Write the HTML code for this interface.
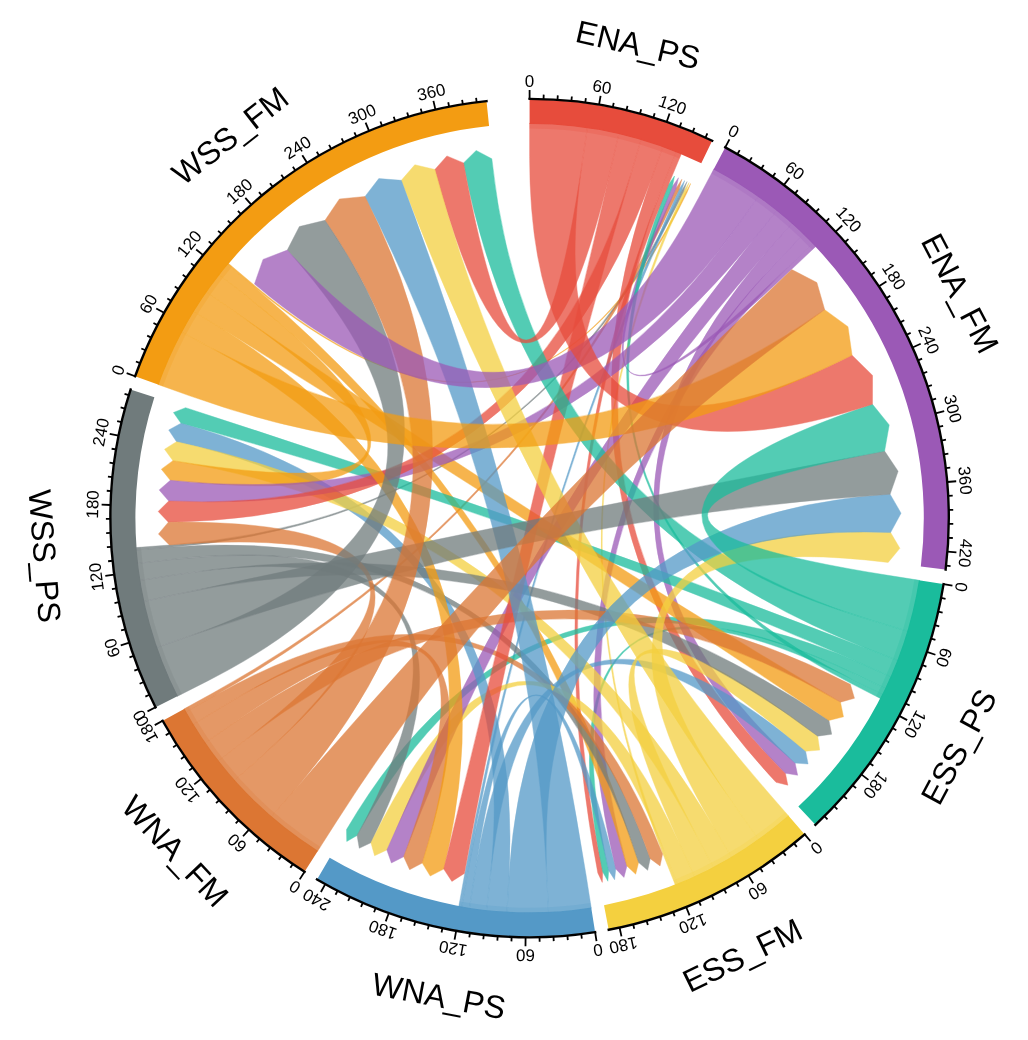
<!DOCTYPE html><html><head><meta charset="utf-8"><title>Chord diagram</title>
<style>html,body{margin:0;padding:0;background:#fff}svg{display:block}text{font-family:"Liberation Sans",Arial,sans-serif;fill:#000}</style></head><body>
<svg width="1028" height="1040" viewBox="0 0 1028 1040">
<rect width="1028" height="1040" fill="#fff"/>
<g>
<path d="M529.6,99.5A418.6,418.6 0 0 1 711.92,141.29L701.29,163.25A394.2,394.2 0 0 0 529.6,123.9Z" fill="#E74C3C"/>
<path d="M724.96,147.88A418.6,418.6 0 0 1 945.04,569.48L920.82,566.48A394.2,394.2 0 0 0 713.57,169.46Z" fill="#9B59B6"/>
<path d="M942.97,584.09A418.6,418.6 0 0 1 814.98,824.34L798.34,806.49A394.2,394.2 0 0 0 918.87,580.24Z" fill="#1ABC9C"/>
<path d="M804.28,833.97A418.6,418.6 0 0 1 608.61,929.18L604.01,905.21A394.2,394.2 0 0 0 788.27,815.56Z" fill="#F4D03F"/>
<path d="M595.01,931.56A418.6,418.6 0 0 1 317.33,878.89L329.71,857.86A394.2,394.2 0 0 0 591.2,907.46Z" fill="#5499C7"/>
<path d="M304.87,871.26A418.6,418.6 0 0 1 163.17,720.47L184.53,708.67A394.2,394.2 0 0 0 317.97,850.68Z" fill="#DC7633"/>
<path d="M156.06,707.03A418.6,418.6 0 0 1 131.15,389.79L154.38,397.27A394.2,394.2 0 0 0 177.84,696.02Z" fill="#707B7C"/>
<path d="M135.7,376.44A418.6,418.6 0 0 1 486.57,101.72L489.08,125.99A394.2,394.2 0 0 0 158.66,384.7Z" fill="#F39C12"/>
</g>
<g opacity="1" stroke-width="0.42" stroke-linejoin="round">
<path d="M227.07,264.13A395,395 0 0 1 228.03,262.99L253.76,284.75Q529.6,518.1 685.71,192.27L690.76,183.38L686.96,192.87Q529.6,518.1 252.88,285.8Z" fill="#F39C12" stroke="#F39C12" opacity="0.75"/>
<path d="M677.6,884.32A395,395 0 0 1 675.39,885.21L662.96,853.89Q529.6,518.1 683.72,191.32L689.1,182.58L685.71,192.27Q529.6,518.1 664.98,853.08Z" fill="#F4D03F" stroke="#F4D03F" opacity="0.75"/>
<path d="M135.89,550A395,395 0 0 1 135.7,547.58L169.31,545.06Q529.6,518.1 681.72,190.38L687.04,181.61L683.72,191.32Q529.6,518.1 169.48,547.28Z" fill="#707B7C" stroke="#707B7C" opacity="0.75"/>
<path d="M461.73,907.23A395,395 0 0 1 458.7,906.69L464.75,873.53Q529.6,518.1 679.14,189.2L684.69,180.52L681.72,190.38Q529.6,518.1 467.52,874.03Z" fill="#5499C7" stroke="#5499C7" opacity="0.75"/>
<path d="M185.53,712.11A395,395 0 0 1 183.82,709.06L213.33,692.77Q529.6,518.1 676.27,187.91L681.89,179.25L679.14,189.2Q529.6,518.1 214.89,695.56Z" fill="#DC7633" stroke="#DC7633" opacity="0.75"/>
<path d="M812.92,242.86A395,395 0 0 1 816.08,246.15L791.63,269.35Q529.6,518.1 672.51,186.27L678.48,177.74L676.27,187.91Q529.6,518.1 788.75,266.35Z" fill="#9B59B6" stroke="#9B59B6" opacity="0.75"/>
<path d="M882.95,694.64A395,395 0 0 1 880.86,698.78L850.89,683.36Q529.6,518.1 668.56,184.59L674.52,176.03L672.51,186.27Q529.6,518.1 852.81,679.58Z" fill="#1ABC9C" stroke="#1ABC9C" opacity="0.75"/>
<path d="M676.43,151.4A395,395 0 0 1 681.52,153.48L668.56,184.59Q529.6,518.1 602.74,871.92L602.27,882.42L597.8,872.91Q529.6,518.1 663.9,182.69Z" fill="#E74C3C" stroke="#E74C3C" opacity="0.75"/>
<path d="M885.86,688.7A395,395 0 0 1 882.95,694.64L852.81,679.58Q529.6,518.1 608.72,870.63L607.89,881.26L602.74,871.92Q529.6,518.1 855.46,674.14Z" fill="#1ABC9C" stroke="#1ABC9C" opacity="0.75"/>
<path d="M469.48,908.5A395,395 0 0 1 461.73,907.23L467.52,874.03Q529.6,518.1 615.78,868.97L614.59,879.75L608.72,870.63Q529.6,518.1 474.61,875.19Z" fill="#5499C7" stroke="#5499C7" opacity="0.75"/>
<path d="M803.83,233.81A395,395 0 0 1 812.92,242.86L788.75,266.35Q529.6,518.1 626.94,866.04L623.97,877.42L615.78,868.97Q529.6,518.1 780.44,258.06Z" fill="#9B59B6" stroke="#9B59B6" opacity="0.75"/>
<path d="M891.32,676.8A395,395 0 0 1 885.86,688.7L855.46,674.14Q529.6,518.1 357.04,835.53L346.72,841.47L346.5,829.57Q529.6,518.1 860.46,663.26Z" fill="#1ABC9C" stroke="#1ABC9C" opacity="0.75"/>
<path d="M218.78,274.35A395,395 0 0 1 227.07,264.13L252.88,285.8Q529.6,518.1 638.61,862.56L635.7,874.13L626.94,866.04Q529.6,518.1 245.3,295.15Z" fill="#F39C12" stroke="#F39C12" opacity="0.75"/>
<path d="M137.22,563.49A395,395 0 0 1 135.89,550L169.48,547.28Q529.6,518.1 650.26,858.66L647.69,870.33L638.61,862.56Q529.6,518.1 170.69,559.62Z" fill="#707B7C" stroke="#707B7C" opacity="0.75"/>
<path d="M663.06,146.33A395,395 0 0 1 676.43,151.4L663.9,182.69Q529.6,518.1 785.43,773.22L787.85,785.15L776.01,782.34Q529.6,518.1 651.68,178.05Z" fill="#E74C3C" stroke="#E74C3C" opacity="0.75"/>
<path d="M192.95,724.72A395,395 0 0 1 185.53,712.11L214.89,695.56Q529.6,518.1 662.6,854.03L660.04,865.95L650.26,858.66Q529.6,518.1 221.67,707.09Z" fill="#DC7633" stroke="#DC7633" opacity="0.75"/>
<path d="M792.42,223.23A395,395 0 0 1 803.83,233.81L780.44,258.06Q529.6,518.1 795.12,763.12L797.69,775.28L785.43,773.22Q529.6,518.1 770,248.38Z" fill="#9B59B6" stroke="#9B59B6" opacity="0.75"/>
<path d="M139.57,580.56A395,395 0 0 1 137.22,563.49L170.69,559.62Q529.6,518.1 370.93,842.7L359.27,848.25L357.04,835.53Q529.6,518.1 172.85,575.23Z" fill="#707B7C" stroke="#707B7C" opacity="0.75"/>
<path d="M486.54,910.75A395,395 0 0 1 469.48,908.5L474.61,875.19Q529.6,518.1 805.64,751.21L808.09,763.97L795.12,763.12Q529.6,518.1 490.22,877.25Z" fill="#5499C7" stroke="#5499C7" opacity="0.75"/>
<path d="M898.02,660.54A395,395 0 0 1 891.32,676.8L860.46,663.26Q529.6,518.1 180.97,423.25L173.42,412.53L185.6,407.65Q529.6,518.1 866.59,648.38Z" fill="#1ABC9C" stroke="#1ABC9C" opacity="0.75"/>
<path d="M694.9,876.85A395,395 0 0 1 677.6,884.32L664.98,853.08Q529.6,518.1 386.81,849.98L374.57,855.71L370.93,842.7Q529.6,518.1 680.8,846.24Z" fill="#F4D03F" stroke="#F4D03F" opacity="0.75"/>
<path d="M777.01,210.18A395,395 0 0 1 792.42,223.23L770,248.38Q529.6,518.1 403.66,856.74L391.4,862.94L386.81,849.98Q529.6,518.1 755.9,236.45Z" fill="#9B59B6" stroke="#9B59B6" opacity="0.75"/>
<path d="M506.96,912.45A395,395 0 0 1 486.54,910.75L490.22,877.25Q529.6,518.1 176.49,441.63L168.7,429.99L180.97,423.25Q529.6,518.1 508.89,878.81Z" fill="#5499C7" stroke="#5499C7" opacity="0.75"/>
<path d="M713.57,867.64A395,395 0 0 1 694.9,876.85L680.8,846.24Q529.6,518.1 817.69,736.14L819.73,750.12L805.64,751.21Q529.6,518.1 697.87,837.82Z" fill="#F4D03F" stroke="#F4D03F" opacity="0.75"/>
<path d="M731.78,857.43A395,395 0 0 1 713.57,867.64L697.87,837.82Q529.6,518.1 172.9,460.65L164.54,449.22L176.49,441.63Q529.6,518.1 714.53,828.48Z" fill="#F4D03F" stroke="#F4D03F" opacity="0.75"/>
<path d="M143.51,601.53A395,395 0 0 1 139.57,580.56L172.85,575.23Q529.6,518.1 828.95,720.4L831.72,734.28L817.69,736.14Q529.6,518.1 176.45,594.41Z" fill="#707B7C" stroke="#707B7C" opacity="0.75"/>
<path d="M204.88,743.01A395,395 0 0 1 192.95,724.72L221.67,707.09Q529.6,518.1 422.28,863.09L409.63,869.7L403.66,856.74Q529.6,518.1 232.58,723.82Z" fill="#DC7633" stroke="#DC7633" opacity="0.75"/>
<path d="M205.99,291.6A395,395 0 0 1 218.78,274.35L245.3,295.15Q529.6,518.1 170.28,480.33L161.34,469.13L172.9,460.65Q529.6,518.1 233.6,310.92Z" fill="#F39C12" stroke="#F39C12" opacity="0.75"/>
<path d="M193.19,311.08A395,395 0 0 1 205.99,291.6L233.6,310.92Q529.6,518.1 840.49,702.18L843.48,716.83L828.95,720.4Q529.6,518.1 221.89,328.75Z" fill="#F39C12" stroke="#F39C12" opacity="0.75"/>
<path d="M758.56,196.23A395,395 0 0 1 777.01,210.18L755.9,236.45Q529.6,518.1 168.7,501.08L159.17,489.92L170.28,480.33Q529.6,518.1 739.03,223.69Z" fill="#9B59B6" stroke="#9B59B6" opacity="0.75"/>
<path d="M641.23,139.2A395,395 0 0 1 663.06,146.33L651.68,178.05Q529.6,518.1 168.32,522.14L158.16,511.42L168.7,501.08Q529.6,518.1 631.71,171.53Z" fill="#E74C3C" stroke="#E74C3C" opacity="0.75"/>
<path d="M181.21,331.95A395,395 0 0 1 193.19,311.08L221.89,328.75Q529.6,518.1 443.72,869.05L430.23,876.06L422.28,863.09Q529.6,518.1 210.94,347.83Z" fill="#F39C12" stroke="#F39C12" opacity="0.75"/>
<path d="M218.28,761.21A395,395 0 0 1 204.88,743.01L232.58,723.82Q529.6,518.1 850.37,684.37L854.47,698.29L840.49,702.18Q529.6,518.1 244.84,740.47Z" fill="#DC7633" stroke="#DC7633" opacity="0.75"/>
<path d="M618.96,133.34A395,395 0 0 1 641.23,139.2L631.71,171.53Q529.6,518.1 464.38,873.46L451.89,881.38L443.72,869.05Q529.6,518.1 611.34,166.17Z" fill="#E74C3C" stroke="#E74C3C" opacity="0.75"/>
<path d="M234.5,780.67A395,395 0 0 1 218.28,761.21L244.84,740.47Q529.6,518.1 169.3,544.94L158.44,533.98L168.32,522.14Q529.6,518.1 259.68,758.27Z" fill="#DC7633" stroke="#DC7633" opacity="0.75"/>
<path d="M908.03,631.32A395,395 0 0 1 898.02,660.54L866.59,648.38Q529.6,518.1 463.57,162.88L476.2,150.46L491.83,158.78Q529.6,518.1 875.74,621.66Z" fill="#1ABC9C" stroke="#1ABC9C" opacity="0.75"/>
<path d="M587.42,127.36A395,395 0 0 1 618.96,133.34L611.34,166.17Q529.6,518.1 434.87,169.44L446.88,155.93L463.57,162.88Q529.6,518.1 582.49,160.69Z" fill="#E74C3C" stroke="#E74C3C" opacity="0.75"/>
<path d="M758.89,839.74A395,395 0 0 1 731.78,857.43L714.53,828.48Q529.6,518.1 890.61,532.54L899.87,548.35L888.17,562.44Q529.6,518.1 739.33,812.3Z" fill="#F4D03F" stroke="#F4D03F" opacity="0.75"/>
<path d="M788.8,816.17A395,395 0 0 1 758.89,839.74L739.33,812.3Q529.6,518.1 401.3,180.35L414.8,164.78L434.87,169.44Q529.6,518.1 766.68,790.74Z" fill="#F4D03F" stroke="#F4D03F" opacity="0.75"/>
<path d="M548.54,912.65A395,395 0 0 1 506.96,912.45L508.89,878.81Q529.6,518.1 890.11,494.16L901.07,513.2L890.61,532.54Q529.6,518.1 546.92,878.98Z" fill="#5499C7" stroke="#5499C7" opacity="0.75"/>
<path d="M591.32,908.25A395,395 0 0 1 548.54,912.65L546.92,878.98Q529.6,518.1 365.01,196.47L378.79,178.59L401.3,180.35Q529.6,518.1 586.06,874.96Z" fill="#5499C7" stroke="#5499C7" opacity="0.75"/>
<path d="M156.43,647.6A395,395 0 0 1 143.51,601.53L176.45,594.41Q529.6,518.1 884.63,451.08L898.13,471.25L890.11,494.16Q529.6,518.1 188.27,636.55Z" fill="#707B7C" stroke="#707B7C" opacity="0.75"/>
<path d="M271.31,816.95A395,395 0 0 1 234.5,780.67L259.68,758.27Q529.6,518.1 325.01,220.31L339.4,198.98L365.01,196.47Q529.6,518.1 293.35,791.46Z" fill="#DC7633" stroke="#DC7633" opacity="0.75"/>
<path d="M177.12,696.38A395,395 0 0 1 156.43,647.6L188.27,636.55Q529.6,518.1 287.28,250.11L299.33,226.58L325.01,220.31Q529.6,518.1 207.19,681.17Z" fill="#707B7C" stroke="#707B7C" opacity="0.75"/>
<path d="M713.94,168.75A395,395 0 0 1 758.56,196.23L739.03,223.69Q529.6,518.1 254.46,283.93L263,259.38L287.28,250.11Q529.6,518.1 698.22,198.56Z" fill="#9B59B6" stroke="#9B59B6" opacity="0.75"/>
<path d="M919.66,580.37A395,395 0 0 1 908.03,631.32L875.74,621.66Q529.6,518.1 872.51,404.3L889.23,424.93L884.63,451.08Q529.6,518.1 886.38,575.06Z" fill="#1ABC9C" stroke="#1ABC9C" opacity="0.75"/>
<path d="M529.6,123.1A395,395 0 0 1 587.42,127.36L582.49,160.69Q529.6,518.1 852.09,355.2L872.62,375.45L872.51,404.3Q529.6,518.1 529.6,156.8Z" fill="#E74C3C" stroke="#E74C3C" opacity="0.75"/>
<path d="M157.91,384.43A395,395 0 0 1 181.21,331.95L210.94,347.83Q529.6,518.1 824.73,309.68L847.99,326.68L852.09,355.2Q529.6,518.1 189.62,395.83Z" fill="#F39C12" stroke="#F39C12" opacity="0.75"/>
<path d="M317.54,851.35A395,395 0 0 1 271.31,816.95L293.35,791.46Q529.6,518.1 791.81,269.53L816.88,282.55L824.73,309.68Q529.6,518.1 335.63,822.92Z" fill="#DC7633" stroke="#DC7633" opacity="0.75"/>
</g>
<g fill-opacity="0.22">
<path d="M529.6,123.9A394.2,394.2 0 0 1 681.22,154.22L679.49,158.38A389.7,389.7 0 0 0 529.6,128.4Z" fill="#E74C3C"/>
<path d="M713.57,169.46A394.2,394.2 0 0 1 815.5,246.7L812.23,249.8A389.7,389.7 0 0 0 711.47,173.44Z" fill="#9B59B6"/>
<path d="M918.87,580.24A394.2,394.2 0 0 1 880.15,698.41L876.14,696.35A389.7,389.7 0 0 0 914.43,579.53Z" fill="#1ABC9C"/>
<path d="M788.27,815.56A394.2,394.2 0 0 1 675.1,884.47L673.44,880.28A389.7,389.7 0 0 0 785.32,812.17Z" fill="#F4D03F"/>
<path d="M591.2,907.46A394.2,394.2 0 0 1 458.85,905.9L459.65,901.47A389.7,389.7 0 0 0 590.5,903.01Z" fill="#5499C7"/>
<path d="M317.97,850.68A394.2,394.2 0 0 1 184.53,708.67L188.46,706.49A389.7,389.7 0 0 0 320.39,846.88Z" fill="#DC7633"/>
<path d="M177.84,696.02A394.2,394.2 0 0 1 136.5,547.52L140.99,547.18A389.7,389.7 0 0 0 181.85,693.99Z" fill="#707B7C"/>
<path d="M158.66,384.7A394.2,394.2 0 0 1 228.64,263.5L232.08,266.41A389.7,389.7 0 0 0 162.89,386.22Z" fill="#F39C12"/>
</g>
<g stroke="#000" stroke-width="2.4" fill="none" stroke-linecap="butt">
<path d="M529.6,98.9A419.2,419.2 0 0 1 712.18,140.75" stroke-linecap="square"/>
<path d="M529.6,98.9L529.6,89.9M543.56,99.13L543.71,94.63M557.5,99.83L557.8,95.34M571.41,100.99L571.86,96.51M585.27,102.61L585.87,98.15M599.08,104.7L600.57,95.82M612.8,107.24L613.7,102.83M626.44,110.24L627.48,105.86M639.96,113.69L641.15,109.35M653.37,117.59L654.69,113.29M666.63,121.93L669.57,113.42M679.75,126.71L681.36,122.51M692.69,131.93L694.44,127.78M705.46,137.57L707.35,133.49" stroke-width="1.8"/>
<path d="M725.24,147.35A419.2,419.2 0 0 1 945.63,569.55" stroke-linecap="square"/>
<path d="M725.24,147.35L729.44,139.39M737.47,154.07L739.71,150.16M749.48,161.19L751.84,157.36M761.24,168.71L763.73,164.96M772.74,176.62L775.35,172.95M783.98,184.9L789.44,177.75M794.93,193.56L797.78,190.07M805.59,202.57L808.55,199.18M815.94,211.94L819.02,208.65M825.98,221.64L829.16,218.46M835.68,231.67L842.26,225.52M845.05,242.02L848.44,239.06M854.07,252.68L857.55,249.83M862.73,263.63L866.3,260.9M871.01,274.86L874.68,272.25M878.92,286.36L886.42,281.39M886.44,298.12L890.28,295.76M893.57,310.12L897.48,307.89M900.29,322.36L904.27,320.26M906.61,334.81L910.65,332.84M912.5,347.46L920.72,343.8M917.97,360.31L922.14,358.61M923.01,373.32L927.23,371.77M927.61,386.5L931.88,385.09M931.77,399.83L936.09,398.56M935.48,413.28L944.2,411.03M938.75,426.85L943.14,425.87M941.56,440.53L945.98,439.69M943.91,454.29L948.36,453.6M945.81,468.12L950.28,467.58M947.24,482L956.21,481.23M948.21,495.93L952.71,495.69M948.72,509.88L953.22,509.79M948.76,523.84L953.26,523.9M948.34,537.79L952.83,538M947.45,551.72L956.42,552.44M946.1,565.61L950.57,566.12" stroke-width="1.8"/>
<path d="M943.56,584.18A419.2,419.2 0 0 1 815.39,824.78" stroke-linecap="square"/>
<path d="M943.56,584.18L952.45,585.6M941.13,597.93L945.55,598.79M938.24,611.59L942.63,612.59M934.9,625.14L939.25,626.29M931.11,638.58L935.43,639.87M926.88,651.88L935.41,654.75M922.21,665.03L926.42,666.61M917.1,678.02L921.26,679.74M911.56,690.83L915.66,692.69M905.59,703.45L909.63,705.44M899.22,715.87L907.15,720.12M892.43,728.07L896.32,730.32M885.23,740.03L889.05,742.41M877.65,751.75L881.38,754.26M869.67,763.21L873.33,765.84M861.33,774.39L868.45,779.9M852.61,785.3L856.08,788.17M843.53,795.9L846.9,798.89M834.11,806.2L837.38,809.29M824.35,816.18L827.51,819.38" stroke-width="1.8"/>
<path d="M804.68,834.43A419.2,419.2 0 0 1 608.73,929.76" stroke-linecap="square"/>
<path d="M804.68,834.43L810.58,841.22M793.99,843.41L796.83,846.9M783.01,852.03L785.73,855.62M771.75,860.28L774.35,863.96M760.23,868.16L762.7,871.91M748.44,875.64L753.14,883.32M736.42,882.73L738.64,886.64M724.16,889.41L726.25,893.4M711.69,895.69L713.65,899.74M699.02,901.54L700.84,905.65M686.16,906.97L689.52,915.32M673.13,911.96L674.67,916.19M659.93,916.52L661.33,920.8M646.6,920.64L647.85,924.96M633.13,924.32L634.24,928.68M619.55,927.54L621.48,936.33" stroke-width="1.8"/>
<path d="M595.11,932.15A419.2,419.2 0 0 1 317.03,879.41" stroke-linecap="square"/>
<path d="M595.11,932.15L596.51,941.04M581.28,934.1L581.84,938.57M567.4,935.59L567.81,940.07M553.48,936.62L553.74,941.11M539.53,937.18L539.64,941.68M525.58,937.28L525.49,946.28M511.62,936.91L511.43,941.41M497.69,936.08L497.34,940.57M483.79,934.79L483.3,939.26M469.94,933.03L469.3,937.49M456.16,930.82L454.58,939.68M442.46,928.14L441.52,932.54M428.85,925.01L427.77,929.38M415.36,921.43L414.14,925.76M402,917.41L400.63,921.69M388.77,912.94L385.75,921.41M375.7,908.03L374.05,912.21M362.81,902.69L361.02,906.82M350.09,896.92L348.17,900.99M337.58,890.74L335.52,894.74M325.28,884.14L320.89,891.99" stroke-width="1.8"/>
<path d="M304.55,871.77A419.2,419.2 0 0 1 162.64,720.76" stroke-linecap="square"/>
<path d="M304.55,871.77L299.72,879.36M292.9,864.08L290.36,867.79M281.51,856.01L278.85,859.63M270.4,847.56L267.62,851.1M259.57,838.75L256.67,842.19M249.05,829.58L243.02,836.26M238.83,820.06L235.71,823.31M228.94,810.22L225.71,813.35M219.38,800.04L216.05,803.07M210.16,789.56L206.74,792.47M201.3,778.77L194.25,784.37M192.81,767.7L189.19,770.38M184.68,756.34L180.98,758.9M176.94,744.73L173.16,747.16M169.59,732.86L165.73,735.17M162.64,720.76L154.76,725.11" stroke-width="1.8"/>
<path d="M155.53,707.3A419.2,419.2 0 0 1 130.58,389.6" stroke-linecap="square"/>
<path d="M155.53,707.3L147.5,711.37M149.43,694.74L145.35,696.64M143.76,681.99L139.62,683.75M138.52,669.05L134.32,670.67M133.71,655.95L129.46,657.43M129.34,642.69L120.75,645.36M125.42,629.29L121.08,630.49M121.94,615.78L117.56,616.82M118.91,602.15L114.5,603.05M116.34,588.43L111.91,589.18M114.23,574.63L105.31,575.84M112.58,560.77L108.1,561.23M111.39,546.86L106.9,547.17M110.66,532.92L106.16,533.08M110.4,518.96L105.9,518.97M110.6,505.01L101.61,504.72M111.27,491.06L106.78,490.77M112.4,477.15L107.93,476.71M114,463.28L109.54,462.69M116.06,449.47L111.62,448.74M118.57,435.74L109.74,433.98M121.54,422.1L117.16,421.07M124.96,408.57L120.62,407.4M128.83,395.16L124.53,393.84" stroke-width="1.8"/>
<path d="M135.13,376.24A419.2,419.2 0 0 1 486.51,101.12" stroke-linecap="square"/>
<path d="M135.13,376.24L126.66,373.19M140.08,363.18L135.89,361.52M145.45,350.3L141.33,348.5M151.25,337.6L147.19,335.67M157.47,325.11L153.47,323.03M164.1,312.82L156.25,308.42M171.14,300.77L167.29,298.43M178.57,288.95L174.8,286.49M186.4,277.39L182.71,274.81M194.6,266.1L191,263.39M203.18,255.09L196.17,249.44M212.11,244.36L208.71,241.42M221.4,233.94L218.1,230.89M231.04,223.84L227.83,220.68M241,214.06L237.9,210.8M251.28,204.62L245.31,197.89M261.87,195.53L259,192.07M272.76,186.8L270,183.24M283.93,178.43L281.3,174.78M295.38,170.44L292.87,166.7M307.09,162.83L302.31,155.2M319.04,155.62L316.78,151.73M331.22,148.81L329.09,144.85M343.63,142.41L341.63,138.38M356.24,136.43L354.38,132.33M369.04,130.87L365.6,122.55M382.03,125.73L380.44,121.52M395.17,121.04L393.73,116.78M408.47,116.78L407.17,112.48M421.89,112.97L420.74,108.62M435.44,109.61L433.42,100.84M449.1,106.7L448.23,102.29M462.84,104.25L462.12,99.81M476.65,102.26L476.09,97.79" stroke-width="1.8"/>
</g>
<g font-size="17" text-anchor="middle">
<text x="529.6" y="80.6" transform="rotate(0 529.6 80.6)" dy="6.1">0</text>
<text x="602.11" y="86.65" transform="rotate(9.54 602.11 86.65)" dy="6.1">60</text>
<text x="672.61" y="104.63" transform="rotate(19.08 672.61 104.63)" dy="6.1">120</text>
<text x="733.78" y="131.17" transform="rotate(27.82 733.78 131.17)" dy="6.1">0</text>
<text x="795.08" y="170.36" transform="rotate(37.36 795.08 170.36)" dy="6.1">60</text>
<text x="849.05" y="219.17" transform="rotate(46.9 849.05 219.17)" dy="6.1">120</text>
<text x="894.17" y="276.25" transform="rotate(56.44 894.17 276.25)" dy="6.1">180</text>
<text x="929.21" y="340.01" transform="rotate(65.98 929.21 340.01)" dy="6.1">240</text>
<text x="953.2" y="408.71" transform="rotate(75.52 953.2 408.71)" dy="6.1">300</text>
<text x="965.47" y="480.43" transform="rotate(85.06 965.47 480.43)" dy="6.1">360</text>
<text x="965.69" y="553.19" transform="rotate(94.6 965.69 553.19)" dy="6.1">420</text>
<text x="961.63" y="587.07" transform="rotate(99.07 961.63 587.07)" dy="6.1">0</text>
<text x="944.22" y="657.72" transform="rotate(108.61 944.22 657.72)" dy="6.1">60</text>
<text x="915.35" y="724.5" transform="rotate(118.15 915.35 724.5)" dy="6.1">120</text>
<text x="875.81" y="785.58" transform="rotate(127.69 875.81 785.58)" dy="6.1">180</text>
<text x="816.68" y="848.24" transform="rotate(138.99 816.68 848.24)" dy="6.1">0</text>
<text x="758" y="891.25" transform="rotate(148.53 758 891.25)" dy="6.1">60</text>
<text x="692.99" y="923.94" transform="rotate(158.07 692.99 923.94)" dy="6.1">120</text>
<text x="623.47" y="945.41" transform="rotate(167.61 623.47 945.41)" dy="6.1">180</text>
<text x="597.96" y="950.23" transform="rotate(171.01 597.96 950.23)" dy="6.1">0</text>
<text x="525.4" y="955.58" transform="rotate(180.55 525.4 955.58)" dy="6.1">60</text>
<text x="452.95" y="948.83" transform="rotate(190.09 452.95 948.83)" dy="6.1">120</text>
<text x="382.62" y="930.17" transform="rotate(199.63 382.62 930.17)" dy="6.1">180</text>
<text x="316.36" y="900.12" transform="rotate(209.17 316.36 900.12)" dy="6.1">240</text>
<text x="294.72" y="887.21" transform="rotate(212.47 294.72 887.21)" dy="6.1">0</text>
<text x="236.8" y="843.17" transform="rotate(222.01 236.8 843.17)" dy="6.1">60</text>
<text x="186.97" y="790.15" transform="rotate(231.55 186.97 790.15)" dy="6.1">120</text>
<text x="146.62" y="729.6" transform="rotate(241.09 146.62 729.6)" dy="6.1">180</text>
<text x="139.2" y="715.56" transform="rotate(243.17 139.2 715.56)" dy="6.1">0</text>
<text x="111.87" y="648.13" transform="rotate(252.71 111.87 648.13)" dy="6.1">60</text>
<text x="96.1" y="577.1" transform="rotate(262.25 96.1 577.1)" dy="6.1">120</text>
<text x="92.31" y="504.43" transform="rotate(271.79 92.31 504.43)" dy="6.1">180</text>
<text x="100.63" y="432.15" transform="rotate(281.33 100.63 432.15)" dy="6.1">240</text>
<text x="117.91" y="370.05" transform="rotate(289.78 117.91 370.05)" dy="6.1">0</text>
<text x="148.14" y="303.86" transform="rotate(299.32 148.14 303.86)" dy="6.1">60</text>
<text x="188.93" y="243.6" transform="rotate(308.86 188.93 243.6)" dy="6.1">120</text>
<text x="239.13" y="190.94" transform="rotate(318.4 239.13 190.94)" dy="6.1">180</text>
<text x="297.37" y="147.32" transform="rotate(327.94 297.37 147.32)" dy="6.1">240</text>
<text x="362.03" y="113.96" transform="rotate(337.48 362.03 113.96)" dy="6.1">300</text>
<text x="431.33" y="91.78" transform="rotate(347.02 431.33 91.78)" dy="6.1">360</text>
</g>
<g font-size="32" text-anchor="middle">
<text x="638.18" y="44.39" transform="rotate(12.91 638.18 44.39)" dy="11.4">ENA_PS</text>
<text x="960.43" y="293.2" transform="rotate(62.44 960.43 293.2)" dy="11.4">ENA_FM</text>
<text x="958.53" y="746.6" transform="rotate(-61.95 958.53 746.6)" dy="11.4">ESS_PS</text>
<text x="742.23" y="955.12" transform="rotate(-25.94 742.23 955.12)" dy="11.4">ESS_FM</text>
<text x="439.03" y="995.59" transform="rotate(10.74 439.03 995.59)" dy="11.4">WNA_PS</text>
<text x="175.44" y="850.91" transform="rotate(46.78 175.44 850.91)" dy="11.4">WNA_FM</text>
<text x="45.09" y="556.15" transform="rotate(85.51 45.09 556.15)" dy="11.4">WSS_PS</text>
<text x="229.99" y="135.44" transform="rotate(321.94 229.99 135.44)" dy="11.4">WSS_FM</text>
</g>
</svg></body></html>
